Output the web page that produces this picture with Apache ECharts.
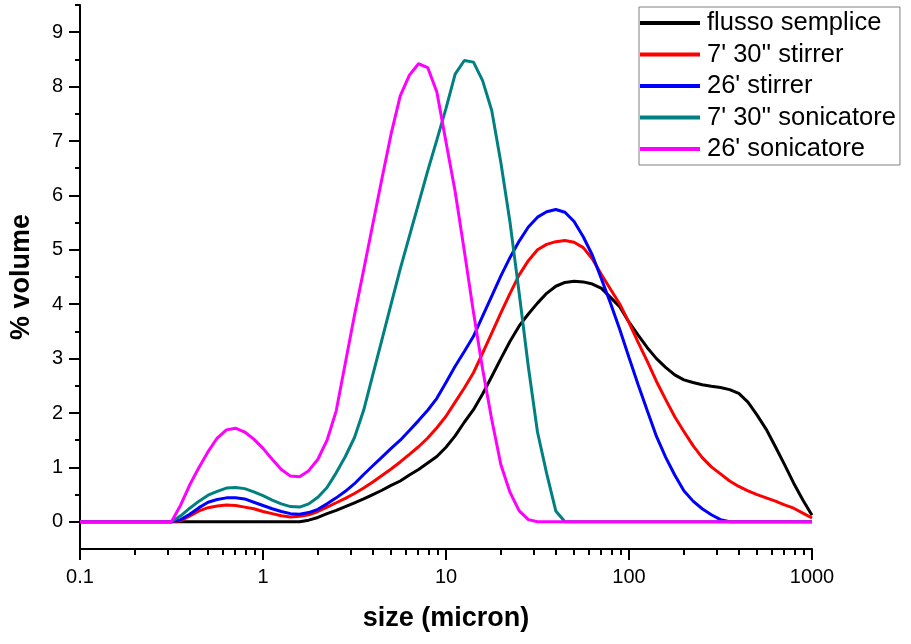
<!DOCTYPE html>
<html>
<head>
<meta charset="utf-8">
<script src="https://cdn.jsdelivr.net/npm/echarts@6/dist/echarts.min.js"></script>
<style>
  html, body { margin: 0; padding: 0; background: #fff; }
  #chart { width: 911px; height: 644px; }
</style>
</head>
<body>
<div id="chart"></div>
<script>
// particle size grid (micron)
const sizes = [0.1, 0.112, 0.126, 0.141, 0.158, 0.178, 0.2, 0.224, 0.251, 0.282,
  0.316, 0.355, 0.398, 0.447, 0.501, 0.562, 0.631, 0.708, 0.794, 0.891,
  1, 1.122, 1.259, 1.413, 1.585, 1.778, 1.995, 2.239, 2.512, 2.818,
  3.162, 3.548, 3.981, 4.467, 5.012, 5.623, 6.31, 7.079, 7.943, 8.913,
  10, 11.22, 12.59, 14.13, 15.85, 17.78, 19.95, 22.39, 25.12, 28.18,
  31.62, 35.48, 39.81, 44.67, 50.12, 56.23, 63.1, 70.79, 79.43, 89.13,
  100, 112.2, 125.9, 141.3, 158.5, 177.8, 199.5, 223.9, 251.2, 281.8,
  316.2, 354.8, 398.1, 446.7, 501.2, 562.3, 631, 707.9, 794.3, 891.3, 1000];

const flussoSemplice = [0, 0, 0, 0, 0, 0, 0, 0, 0, 0,
  0, 0, 0, 0, 0, 0, 0, 0, 0, 0,
  0, 0, 0, 0, 0, 0.03, 0.08, 0.15, 0.21, 0.28,
  0.35, 0.42, 0.5, 0.58, 0.67, 0.75, 0.86, 0.96, 1.08, 1.2,
  1.37, 1.58, 1.83, 2.06, 2.35, 2.67, 3.0, 3.32, 3.6, 3.82,
  4.02, 4.2, 4.33, 4.4, 4.42, 4.41, 4.37, 4.29, 4.12, 3.95,
  3.67, 3.43, 3.2, 3.0, 2.84, 2.7, 2.61, 2.56, 2.52, 2.49,
  2.47, 2.43, 2.36, 2.2, 1.96, 1.7, 1.38, 1.05, 0.71, 0.4, 0.12];

const stirrer7m30 = [0, 0, 0, 0, 0, 0, 0, 0, 0, 0,
  0, 0.02, 0.11, 0.2, 0.26, 0.29, 0.31, 0.3, 0.27, 0.24,
  0.19, 0.15, 0.11, 0.09, 0.1, 0.13, 0.19, 0.27, 0.35, 0.43,
  0.52, 0.62, 0.73, 0.85, 0.97, 1.1, 1.24, 1.38, 1.54, 1.73,
  1.94, 2.2, 2.46, 2.74, 3.1, 3.47, 3.84, 4.2, 4.54, 4.8,
  5.0, 5.1, 5.15, 5.17, 5.14, 5.04, 4.83, 4.54, 4.27, 4.0,
  3.66, 3.3, 2.95, 2.58, 2.25, 1.93, 1.66, 1.4, 1.18, 1.01,
  0.88, 0.75, 0.65, 0.57, 0.5, 0.44, 0.38, 0.31, 0.25, 0.16, 0.07];

const stirrer26m = [0, 0, 0, 0, 0, 0, 0, 0, 0, 0,
  0, 0.04, 0.14, 0.26, 0.36, 0.41, 0.44, 0.44, 0.42, 0.36,
  0.3, 0.24, 0.19, 0.15, 0.14, 0.17, 0.23, 0.33, 0.44, 0.56,
  0.7, 0.87, 1.03, 1.19, 1.35, 1.5, 1.68, 1.86, 2.05, 2.27,
  2.56, 2.86, 3.13, 3.41, 3.78, 4.15, 4.52, 4.86, 5.16, 5.42,
  5.6, 5.7, 5.74, 5.69, 5.52, 5.24, 4.9, 4.46, 4.01, 3.53,
  3.02, 2.52, 2.04, 1.57, 1.19, 0.86, 0.57, 0.38, 0.24, 0.13,
  0.04, 0, 0, 0, 0, 0, 0, 0, 0, 0, 0];

const sonicatore7m30 = [0, 0, 0, 0, 0, 0, 0, 0, 0, 0,
  0, 0.11, 0.25, 0.38, 0.49, 0.56, 0.62, 0.63, 0.61, 0.55,
  0.48, 0.4, 0.33, 0.28, 0.27, 0.33, 0.45, 0.63, 0.9, 1.2,
  1.55, 2.05, 2.7, 3.35, 4.0, 4.65, 5.25, 5.85, 6.45, 7.02,
  7.6, 8.23, 8.48, 8.45, 8.11, 7.56, 6.6, 5.5, 4.2, 2.85,
  1.65, 0.89, 0.2, 0, 0, 0, 0, 0, 0, 0,
  0, 0, 0, 0, 0, 0, 0, 0, 0, 0,
  0, 0, 0, 0, 0, 0, 0, 0, 0, 0, 0];

const sonicatore26m = [0, 0, 0, 0, 0, 0, 0, 0, 0, 0,
  0, 0.31, 0.68, 1.0, 1.29, 1.54, 1.69, 1.72, 1.65, 1.52,
  1.35, 1.15, 0.96, 0.84, 0.83, 0.94, 1.15, 1.5, 2.04, 2.92,
  3.8, 4.63, 5.47, 6.31, 7.13, 7.83, 8.21, 8.42, 8.35, 7.9,
  6.98, 6.07, 4.98, 3.85, 2.81, 1.88, 1.05, 0.54, 0.2, 0.04,
  0, 0, 0, 0, 0, 0, 0, 0, 0, 0,
  0, 0, 0, 0, 0, 0, 0, 0, 0, 0,
  0, 0, 0, 0, 0, 0, 0, 0, 0, 0, 0];

const seriesNames = ["flusso semplice", "7' 30'' stirrer", "26' stirrer", "7' 30'' sonicatore", "26' sonicatore"];
const seriesColors = ['#000000', '#ff0000', '#0000ff', '#008080', '#ff00ff'];
const seriesValues = [flussoSemplice, stirrer7m30, stirrer26m, sonicatore7m30, sonicatore26m];

const xMajorTicks = [0.1, 1, 10, 100, 1000];
const xMinorTicks = [0.2, 0.3, 0.4, 0.5, 0.6, 0.7, 0.8, 0.9,
  2, 3, 4, 5, 6, 7, 8, 9, 20, 30, 40, 50, 60, 70, 80, 90,
  200, 300, 400, 500, 600, 700, 800, 900];
const yMajorTicks = [0, 1, 2, 3, 4, 5, 6, 7, 8, 9];
const yMinorTicks = [0.5, 1.5, 2.5, 3.5, 4.5, 5.5, 6.5, 7.5, 8.5, 9.5];

const FONT = "'Liberation Sans', Arial, Helvetica, sans-serif";
const axisLineStyle = { color: '#000', width: 2 };

const chart = echarts.init(document.getElementById('chart'), null, { renderer: 'canvas' });

const option = {
  animation: false,
  backgroundColor: '#ffffff',
  textStyle: { fontFamily: FONT },
  grid: { left: 80, right: 99, top: 5, bottom: 95, containLabel: false },
  legend: {
    orient: 'vertical',
    left: 639,
    top: 7,
    data: seriesNames,
    icon: 'rect',
    itemWidth: 60,
    itemHeight: 4,
    itemGap: 5.5,
    padding: [3, 4, 3, 1],
    borderColor: '#808080',
    borderWidth: 1,
    backgroundColor: '#ffffff',
    textStyle: { fontSize: 25.5, lineHeight: 26, color: '#000', fontFamily: FONT, padding: [0, 0, 0, 2] }
  },
  xAxis: [
    {
      type: 'log', logBase: 10, min: 0.1, max: 1000, position: 'bottom',
      axisLine: { show: true, onZero: false, lineStyle: axisLineStyle },
      axisTick: { show: true, inside: false, length: 11, customValues: xMajorTicks, lineStyle: axisLineStyle },
      axisLabel: { customValues: xMajorTicks, fontSize: 20, color: '#000', margin: 18, fontFamily: FONT,
        formatter: function (v) { return String(v); } },
      splitLine: { show: false },
      minorTick: { show: false },
      name: 'size (micron)', nameLocation: 'middle', nameGap: 56,
      nameTextStyle: { fontSize: 27, fontWeight: 'bold', color: '#000', fontFamily: FONT }
    },
    {
      type: 'log', logBase: 10, min: 0.1, max: 1000, position: 'bottom',
      axisLine: { show: false, onZero: false },
      axisTick: { show: true, inside: false, length: 6, customValues: xMinorTicks, lineStyle: axisLineStyle },
      axisLabel: { show: false },
      splitLine: { show: false }
    }
  ],
  yAxis: [
    {
      type: 'value', min: -0.5, max: 9.5, position: 'left',
      axisLine: { show: true, onZero: false, lineStyle: axisLineStyle },
      axisTick: { show: true, inside: false, length: 11, customValues: yMajorTicks, lineStyle: axisLineStyle },
      axisLabel: { customValues: yMajorTicks, fontSize: 20, color: '#000', margin: 17, fontFamily: FONT },
      splitLine: { show: false },
      name: '% volume', nameLocation: 'middle', nameGap: 45, nameRotate: 90,
      nameTextStyle: { fontSize: 27, fontWeight: 'bold', color: '#000', fontFamily: FONT }
    },
    {
      type: 'value', min: -0.5, max: 9.5, position: 'left',
      axisLine: { show: false, onZero: false },
      axisTick: { show: true, inside: false, length: 5, customValues: yMinorTicks, lineStyle: axisLineStyle },
      axisLabel: { show: false },
      splitLine: { show: false }
    }
  ],
  series: seriesNames.map(function (name, i) {
    return {
      name: name,
      type: 'line',
      xAxisIndex: 0,
      yAxisIndex: 0,
      symbol: 'none',
      showSymbol: false,
      smooth: false,
      color: seriesColors[i],
      lineStyle: { color: seriesColors[i], width: 3 },
      data: sizes.map(function (s, j) { return [s, seriesValues[i][j]]; })
    };
  })
};

chart.setOption(option);
</script>
</body>
</html>
